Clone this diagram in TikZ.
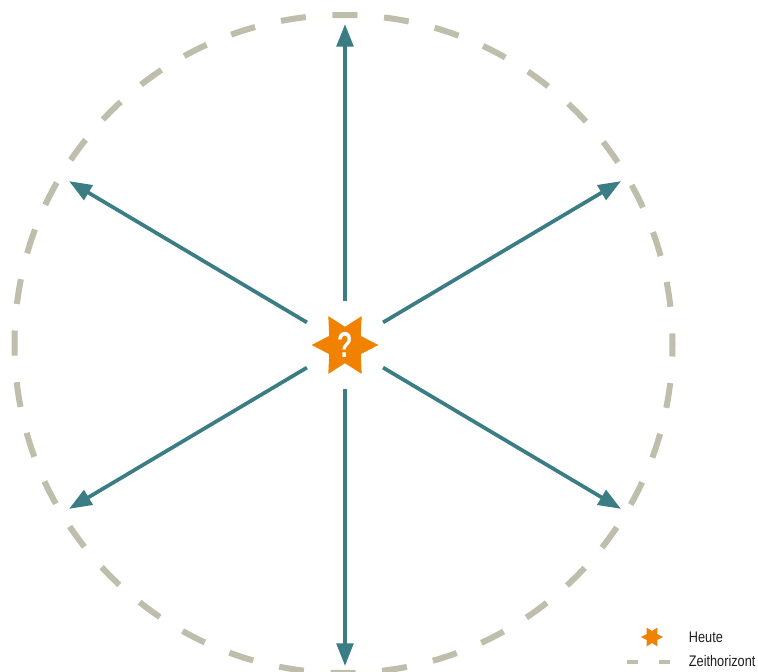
\documentclass[tikz,border=0pt]{standalone}
\usepackage{fontspec}
\setsansfont{Liberation Sans}
\usetikzlibrary{arrows.meta, shapes.geometric, calc}
\definecolor{DarkTeal}{rgb}{0.23, 0.49, 0.52}
\definecolor{BrightOrange}{rgb}{0.94, 0.51, 0.0}
\definecolor{WarmGrey}{rgb}{0.75, 0.74, 0.67}
\definecolor{TextGrey}{rgb}{0.12, 0.12, 0.12}
\def\r{329}
\def\t{321}

\begin{document}
\begin{tikzpicture}[x=0.75pt, y=-0.75pt, font=\sffamily,
    pfeil/.style={DarkTeal, line width=2.8pt, -{Triangle[length=17pt, width=12.5pt]}},
    heutestern/.style={star, star points=6, star point ratio=1.83, shape border rotate=30,
        fill=BrightOrange, inner sep=0pt},
    legtext/.style={font=\sffamily\fontsize{11.5}{13}\selectfont, text=TextGrey, anchor=west, xscale=0.83}]
\useasboundingbox (0,0) rectangle (758,672);

% Zeithorizont
\draw[WarmGrey, line width=4.5pt, dash pattern=on 18.8pt off 20pt, dash phase=9.4pt]
    (343.5,344) circle[radius=\r];

% heute
\node[heutestern, minimum size=50pt] (heute) at (345,345) {};
\node[text=white, font=\sffamily\bfseries\fontsize{27}{27}\selectfont, xscale=0.7] (frage) at (heute) {?};
\node[circle, minimum size=66pt, inner sep=0pt] (nabe) at (heute) {};

% Pfeile
\foreach \w/\n in {30.7/ro,90/o,149.3/lo,210.7/lu,270/u,329.3/ru}{
    \coordinate (z\n) at ($(heute)+(\w:\t)$);
    \draw[pfeil] (nabe) -- (z\n);
}

% Legende
\node[heutestern, minimum size=16.5pt] (legstern) at (652,637) {};
\node[legtext] (legheute) at (685,637) {Heute};
\coordinate (linA) at (627,662);
\coordinate (linB) at (671,662);
\draw[WarmGrey, line width=2.5pt, dash pattern=on 8.3pt off 16pt] (linA) -- (linB);
\node[legtext] (legzeit) at (685,661) {Zeithorizont};

\end{tikzpicture}
\end{document}
